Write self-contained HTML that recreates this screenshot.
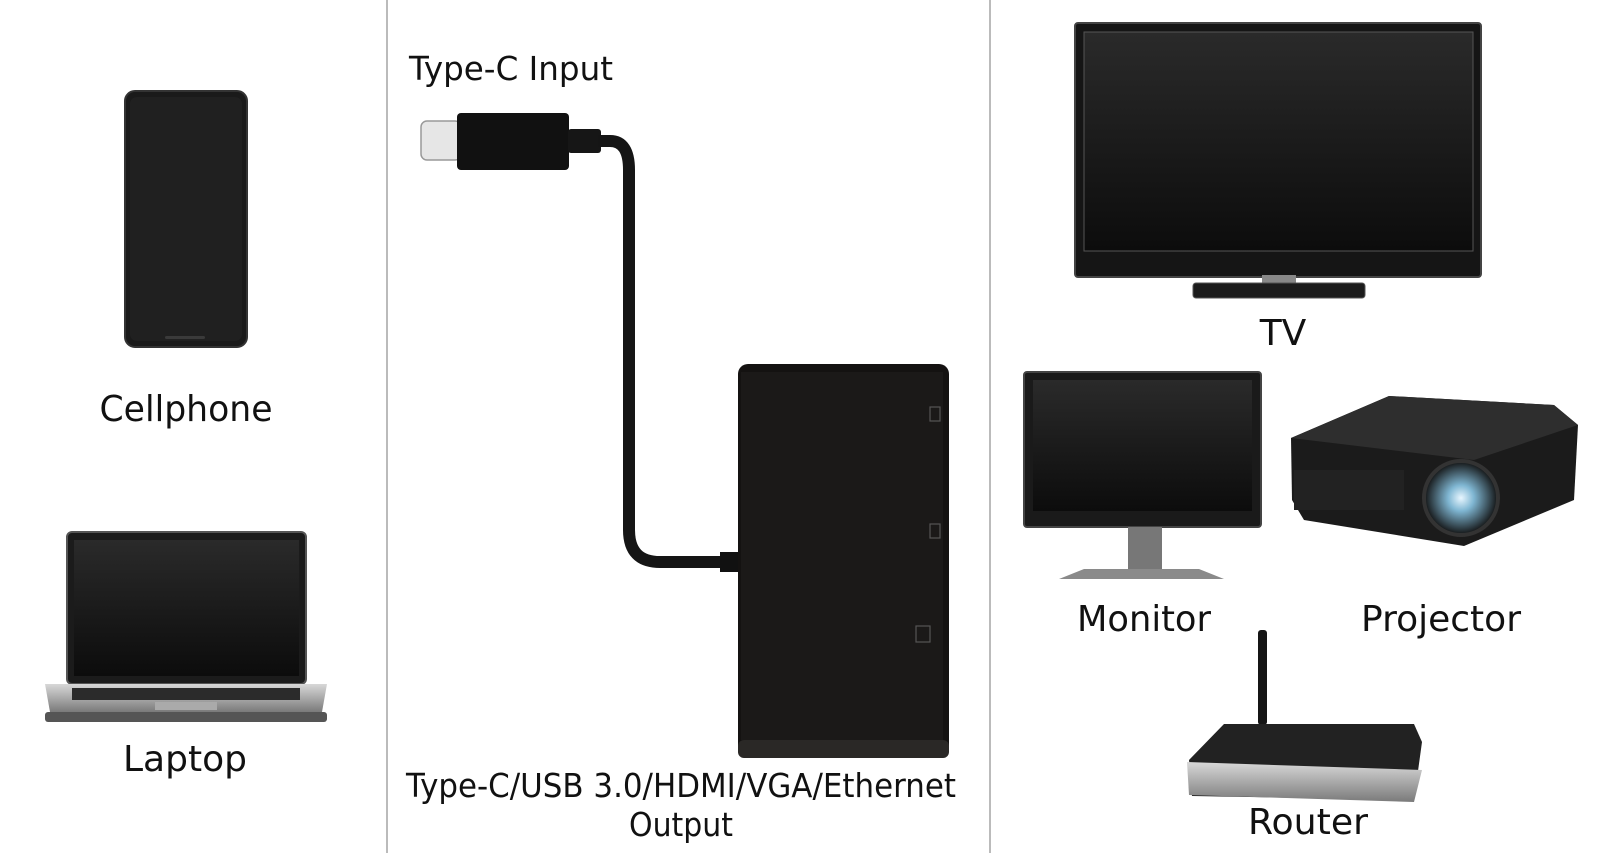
<!DOCTYPE html>
<html><head><meta charset="utf-8"><style>
html,body{margin:0;padding:0;background:#fff;width:1608px;height:853px;overflow:hidden}
svg{display:block}
text{font-family:"DejaVu Sans","Liberation Sans",sans-serif;fill:#111}
</style></head><body>
<svg width="1608" height="853" viewBox="0 0 1608 853" xmlns="http://www.w3.org/2000/svg">
<defs>
<linearGradient id="scr" x1="0" y1="0" x2="0" y2="1"><stop offset="0" stop-color="#2a2a2a"/><stop offset="1" stop-color="#0c0c0c"/></linearGradient>
<linearGradient id="silver" x1="0" y1="0" x2="0" y2="1"><stop offset="0" stop-color="#d8d8d8"/><stop offset="1" stop-color="#7a7a7a"/></linearGradient>
<radialGradient id="lens"><stop offset="0" stop-color="#e8f6ff"/><stop offset="0.35" stop-color="#7fb6d2"/><stop offset="1" stop-color="#111"/></radialGradient>
</defs>
<line x1="387" y1="0" x2="387" y2="853" stroke="#bbb" stroke-width="2"/>
<line x1="990" y1="0" x2="990" y2="853" stroke="#bbb" stroke-width="2"/>

<rect x="125" y="91" width="122" height="256" rx="10" fill="#1a1a1a" stroke="#333" stroke-width="2"/>
<rect x="130" y="97" width="112" height="244" rx="7" fill="#202020"/>
<rect x="165" y="336" width="40" height="3" rx="1.5" fill="#3a3a3a"/>
<text x="186" y="421" font-size="36" text-anchor="middle" textLength="173" lengthAdjust="spacingAndGlyphs">Cellphone</text>

<rect x="67" y="532" width="239" height="152" rx="5" fill="#1b1b1b" stroke="#555" stroke-width="2"/>
<rect x="74" y="540" width="225" height="136" fill="url(#scr)"/>
<path d="M45 684 L327 684 L322 712 L50 712 Z" fill="url(#silver)"/>
<rect x="72" y="688" width="228" height="12" fill="#2b2b2b"/>
<rect x="155" y="702" width="62" height="8" fill="#aaa"/>
<rect x="45" y="712" width="282" height="10" rx="3" fill="#555"/>
<text x="185" y="771" font-size="36" text-anchor="middle" textLength="124" lengthAdjust="spacingAndGlyphs">Laptop</text>

<text x="409" y="80" font-size="33" textLength="204" lengthAdjust="spacingAndGlyphs">Type-C Input</text>
<rect x="421" y="121" width="40" height="39" rx="6" fill="#e6e6e6" stroke="#999" stroke-width="1.5"/>
<rect x="457" y="113" width="112" height="57" rx="4" fill="#111"/>
<rect x="568" y="129" width="33" height="24" rx="3" fill="#161616"/>
<path d="M598 141 L610 141 Q629 141 629 170 L629 530 Q629 562 660 562 L740 562" fill="none" stroke="#151515" stroke-width="12"/>
<rect x="720" y="552" width="22" height="20" fill="#111"/>
<rect x="738" y="364" width="211" height="394" rx="10" fill="#141211"/>
<rect x="741" y="372" width="202" height="368" fill="#1b1918"/>
<rect x="738" y="740" width="211" height="18" rx="6" fill="#2a2826"/>
<g stroke="#555" fill="none" stroke-width="1.2">
<rect x="930" y="407" width="10" height="14"/>
<rect x="930" y="524" width="10" height="14"/>
<rect x="916" y="626" width="14" height="16"/>
</g>
<text x="681" y="797" font-size="33" text-anchor="middle" textLength="550" lengthAdjust="spacingAndGlyphs">Type-C/USB 3.0/HDMI/VGA/Ethernet</text>
<text x="681" y="836" font-size="33" text-anchor="middle" textLength="104" lengthAdjust="spacingAndGlyphs">Output</text>

<rect x="1075" y="23" width="406" height="254" rx="3" fill="#151515" stroke="#444" stroke-width="2"/>
<rect x="1084" y="32" width="389" height="219" fill="url(#scr)" stroke="#555" stroke-width="1"/>
<rect x="1262" y="275" width="34" height="9" fill="#888"/>
<rect x="1193" y="283" width="172" height="15" rx="3" fill="#1c1c1c" stroke="#555"/>
<text x="1283" y="345" font-size="36" text-anchor="middle">TV</text>

<rect x="1024" y="372" width="237" height="155" rx="3" fill="#1a1a1a" stroke="#444" stroke-width="2"/>
<rect x="1033" y="380" width="219" height="131" fill="url(#scr)"/>
<rect x="1128" y="527" width="34" height="44" fill="#777"/>
<path d="M1059 579 L1084 569 L1199 569 L1224 579 Z" fill="#8a8a8a"/>
<text x="1144" y="631" font-size="36" text-anchor="middle" textLength="134" lengthAdjust="spacingAndGlyphs">Monitor</text>

<path d="M1291 438 L1389 396 L1554 405 L1578 425 L1574 500 L1464 546 L1304 520 L1292 500 Z" fill="#1b1b1b"/>
<path d="M1291 438 L1389 396 L1554 405 L1578 425 L1474 460 Z" fill="#2e2e2e"/>
<rect x="1294" y="470" width="110" height="40" fill="#222"/>
<circle cx="1461" cy="498" r="37" fill="url(#lens)" stroke="#333" stroke-width="4"/>
<text x="1441" y="631" font-size="36" text-anchor="middle" textLength="160" lengthAdjust="spacingAndGlyphs">Projector</text>

<rect x="1258" y="630" width="9" height="95" rx="3" fill="#151515"/>
<path d="M1189 760 L1224 724 L1414 724 L1422 742 L1414 800 L1192 796 Z" fill="#222"/>
<path d="M1187 762 L1422 770 L1414 802 L1189 795 Z" fill="url(#silver)"/>
<text x="1308" y="834" font-size="36" text-anchor="middle" textLength="120" lengthAdjust="spacingAndGlyphs">Router</text>
</svg>
</body></html>
